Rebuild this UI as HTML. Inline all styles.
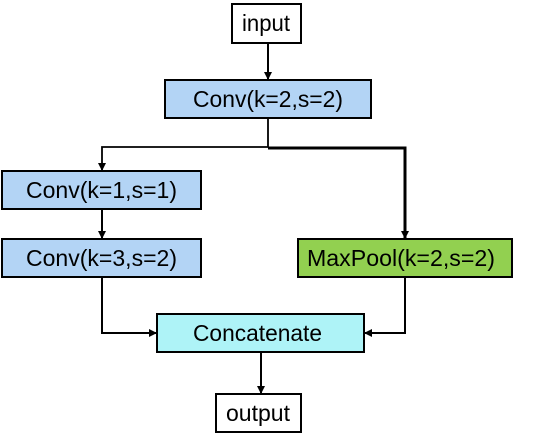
<!DOCTYPE html>
<html><head><style>body{margin:0;background:#fff}</style></head><body>
<svg width="535" height="435" xmlns="http://www.w3.org/2000/svg" style="font-family:'Liberation Sans',Arial,sans-serif;font-size:23px">
<defs><marker id="a" markerWidth="8" markerHeight="8" refX="7" refY="4" orient="auto" markerUnits="userSpaceOnUse"><path d="M0,0 L8,4 L0,8 z" fill="#000"/></marker></defs>
<g stroke="#000" fill="none">
<path d="M268,43 V79" stroke-width="2" marker-end="url(#a)"/>
<path d="M268,118 V147 H102 V170" stroke-width="1.8" marker-end="url(#a)"/>
<path d="M268,148 H405 V238" stroke-width="3" marker-end="url(#a)"/>
<path d="M102,209 V238" stroke-width="2" marker-end="url(#a)"/>
<path d="M102,277 V333 H156" stroke-width="2" marker-end="url(#a)"/>
<path d="M405,277 V333 H365" stroke-width="2" marker-end="url(#a)"/>
<path d="M261,352 V393" stroke-width="2" marker-end="url(#a)"/>
</g>
<g stroke="#000" stroke-width="2">
<rect x="232" y="4" width="69" height="39" fill="#fff"/>
<rect x="165" y="80" width="206" height="38" fill="#b3d4f5"/>
<rect x="2" y="171" width="199" height="38" fill="#b3d4f5"/>
<rect x="2" y="239" width="199" height="38" fill="#b3d4f5"/>
<rect x="298" y="239" width="214" height="38" fill="#92d050"/>
<rect x="157" y="314" width="207" height="38" fill="#aef3f7"/>
<rect x="216" y="394" width="85" height="38" fill="#fff"/>
</g>
<g fill="#000">
<text x="242" y="31" textLength="48" lengthAdjust="spacingAndGlyphs">input</text>
<text x="193" y="107" textLength="150" lengthAdjust="spacingAndGlyphs">Conv(k=2,s=2)</text>
<text x="26" y="198" textLength="151" lengthAdjust="spacingAndGlyphs">Conv(k=1,s=1)</text>
<text x="26" y="266" textLength="151" lengthAdjust="spacingAndGlyphs">Conv(k=3,s=2)</text>
<text x="307" y="266" textLength="188" lengthAdjust="spacingAndGlyphs">MaxPool(k=2,s=2)</text>
<text x="193" y="341" textLength="129" lengthAdjust="spacingAndGlyphs">Concatenate</text>
<text x="226" y="421" textLength="64" lengthAdjust="spacingAndGlyphs">output</text>
</g>
</svg>
</body></html>
